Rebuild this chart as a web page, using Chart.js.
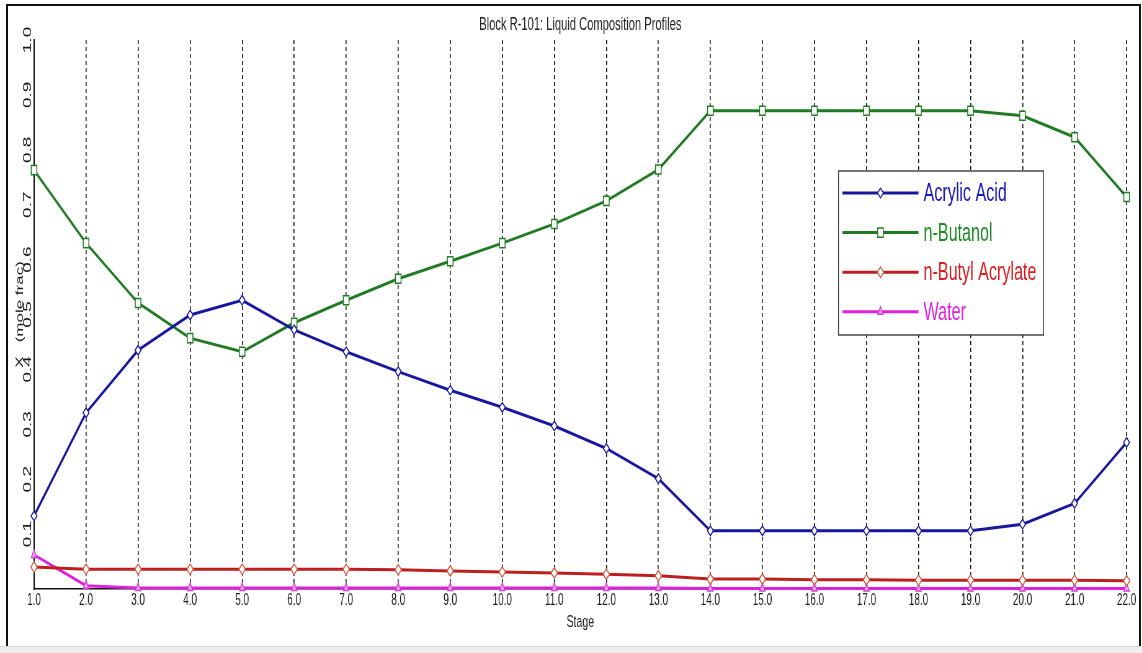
<!DOCTYPE html>
<html>
<head>
<meta charset="utf-8">
<title>Block R-101: Liquid Composition Profiles</title>
<script src="https://cdn.jsdelivr.net/npm/chart.js@4.4.1/dist/chart.umd.min.js"></script>
<style>
  html, body { margin: 0; padding: 0; background: #ffffff; width: 1142px; height: 653px; overflow: hidden; }
  #wrap { position: absolute; left: 0; top: 0; height: 653px; transform-origin: 0 0; }
  #frame { position: absolute; left: 6px; top: 4px; width: 1135px; height: 643px; box-sizing: border-box;
           border: 2px solid #111; border-bottom: none; pointer-events: none; }
  #status { position: absolute; left: 0; top: 646px; width: 1142px; height: 7px; background: #eeeeee;
            border-top: 1px solid #d6d6d6; }
</style>
</head>
<body>
<div id="wrap"><canvas id="profile"></canvas></div>
<div id="frame"></div>
<div id="status"></div>
<script>
// Stage numbers along the column
const stages = [1, 2, 3, 4, 5, 6, 7, 8, 9, 10, 11, 12, 13, 14, 15, 16, 17, 18, 19, 20, 21, 22];

// Liquid mole fractions per stage
const acrylicAcid    = [0.133, 0.321, 0.435, 0.499, 0.526, 0.472, 0.432, 0.396, 0.362, 0.331, 0.297,
                        0.256, 0.201, 0.106, 0.106, 0.106, 0.106, 0.106, 0.106, 0.118, 0.156, 0.267];
const nButanol       = [0.763, 0.630, 0.521, 0.457, 0.432, 0.485, 0.526, 0.565, 0.597, 0.630, 0.665,
                        0.707, 0.764, 0.871, 0.871, 0.871, 0.871, 0.871, 0.871, 0.862, 0.823, 0.714];
const nButylAcrylate = [0.040, 0.036, 0.036, 0.036, 0.036, 0.036, 0.036, 0.035, 0.033, 0.031, 0.029,
                        0.027, 0.024, 0.018, 0.018, 0.017, 0.017, 0.016, 0.016, 0.016, 0.016, 0.015];
const water          = [0.062, 0.006, 0.002, 0.002, 0.002, 0.002, 0.002, 0.002, 0.002, 0.002, 0.002,
                        0.002, 0.002, 0.001, 0.001, 0.001, 0.001, 0.001, 0.001, 0.001, 0.001, 0.001];

// Axis tick labels
const xTickLabels = stages.map(s => s.toFixed(1));
const yTickValues = [0.1, 0.2, 0.3, 0.4, 0.5, 0.6, 0.7, 0.8, 0.9, 1.0];

const seriesNames = ['Acrylic Acid', 'n-Butanol', 'n-Butyl Acrylate', 'Water'];

// The plot is laid out on a wider canvas and squeezed horizontally,
// which gives the tall, narrow lettering of the original plot window.
const SQUEEZE = 0.62;
const PAGE_W = 1142, PAGE_H = 653;
const CANVAS_W = PAGE_W / SQUEEZE;

const wrap = document.getElementById('wrap');
wrap.style.width = CANVAS_W + 'px';
wrap.style.transform = 'scaleX(' + SQUEEZE + ')';

const FONT = "'Liberation Sans', Arial, sans-serif";
Chart.defaults.font.family = FONT;
Chart.defaults.color = '#1a1a1a';

const toPoints = arr => arr.map((v, i) => ({ x: stages[i], y: v }));

const datasets = [
  { label: seriesNames[0], data: toPoints(acrylicAcid), borderColor: '#16169e', textColor: '#1818c0',
    pointStyle: 'rectRot', pointRadius: 4.8, pointBackgroundColor: '#ffffff', pointBorderColor: '#16169e' },
  { label: seriesNames[1], data: toPoints(nButanol), borderColor: '#1f7a22', textColor: '#1f8a24',
    pointStyle: 'rect', pointRadius: 6.4, pointBackgroundColor: '#ffffff', pointBorderColor: '#1f7a22' },
  { label: seriesNames[2], data: toPoints(nButylAcrylate), borderColor: '#bd1f1f', textColor: '#dc1e1e',
    pointStyle: 'rectRot', pointRadius: 5.2, pointBackgroundColor: '#ffffff', pointBorderColor: '#d0583c' },
  { label: seriesNames[3], data: toPoints(water), borderColor: '#de20de', textColor: '#e020e0',
    pointStyle: 'triangle', pointRadius: 5, pointBackgroundColor: '#f2a6f2', pointBorderColor: '#d040d0' }
].map(ds => Object.assign({
  borderWidth: 3, pointBorderWidth: 1.5, tension: 0, clip: false, fill: false
}, ds));

// Boxed series key drawn inside the plot, line + marker + coloured name
const seriesKey = {
  id: 'seriesKey',
  afterDraw(chart) {
    const ctx = chart.ctx;
    const bx = 838 / SQUEEZE, by = 171, bw = 205 / SQUEEZE, bh = 164;
    ctx.save();
    ctx.fillStyle = '#ffffff';
    ctx.fillRect(bx, by, bw, bh);
    ctx.lineWidth = 1.4;
    ctx.strokeStyle = '#3a3a3a';
    ctx.strokeRect(bx, by, bw, bh);
    chart.data.datasets.forEach((ds, i) => {
      const y = 193 + i * 39.6;
      const x0 = 842 / SQUEEZE, x1 = 918 / SQUEEZE, xm = 880 / SQUEEZE;
      ctx.beginPath();
      ctx.lineWidth = ds.borderWidth;
      ctx.strokeStyle = ds.borderColor;
      ctx.moveTo(x0, y);
      ctx.lineTo(x1, y);
      ctx.stroke();
      ctx.fillStyle = ds.pointBackgroundColor;
      ctx.strokeStyle = ds.pointBorderColor;
      ctx.lineWidth = ds.pointBorderWidth;
      Chart.helpers.drawPoint(ctx, { pointStyle: ds.pointStyle, radius: ds.pointRadius, borderWidth: ds.pointBorderWidth, rotation: 0 }, xm, y);
      ctx.fillStyle = ds.textColor;
      ctx.font = '26px ' + FONT;
      ctx.textAlign = 'left';
      ctx.textBaseline = 'middle';
      ctx.fillText(ds.label, 923 / SQUEEZE, y + 1);
    });
    ctx.restore();
  }
};

new Chart(document.getElementById('profile'), {
  type: 'line',
  data: { datasets },
  plugins: [seriesKey],
  options: {
    responsive: true,
    maintainAspectRatio: false,
    animation: false,
    events: [],
    layout: { padding: { left: 12, right: (PAGE_W - 1126) / SQUEEZE, top: 0, bottom: 20 } },
    plugins: {
      legend: { display: false },
      tooltip: { enabled: false },
      title: {
        display: true,
        fullSize: false,
        text: 'Block R-101: Liquid Composition Profiles',
        color: '#222222',
        font: { size: 18, weight: 'normal' },
        padding: { top: 14.2, bottom: 4.2 }
      }
    },
    scales: {
      x: {
        type: 'linear',
        min: 1,
        max: 22,
        afterFit(scale) { scale.height = PAGE_H - 20 - 589; },
        afterBuildTicks(scale) { scale.ticks = stages.map(v => ({ value: v })); },
        ticks: {
          autoSkip: false,
          maxRotation: 0,
          padding: 2.4,
          font: { size: 16 },
          color: '#1a1a1a',
          callback: (v, i) => xTickLabels[i]
        },
        grid: { display: true, drawTicks: false, color: '#111111', lineWidth: 1 / SQUEEZE },
        border: { display: true, color: '#111111', width: 1.5, dash: [4, 3] },
        title: { display: true, text: 'Stage', font: { size: 17 }, color: '#1a1a1a', padding: { top: 0, bottom: 0.8 } }
      },
      y: {
        min: 0,
        max: 1,
        afterFit(scale) { scale.width = 34 / SQUEEZE - 12; },
        afterBuildTicks(scale) { scale.ticks = [0].concat(yTickValues).map(v => ({ value: v })); },
        ticks: {
          minRotation: 90,
          maxRotation: 90,
          crossAlign: 'center',
          padding: -3.6,
          font: { size: 19 },
          color: '#1a1a1a',
          callback: v => (v === 0 ? '' : v.toFixed(1))
        },
        grid: { display: false, drawTicks: false },
        border: { display: true, color: '#111111', width: 2 },
        title: { display: true, text: 'X   (mole frac)', font: { size: 17 }, color: '#1a1a1a', padding: { top: 10.1, bottom: 0 } }
      }
    }
  }
});
</script>
</body>
</html>
